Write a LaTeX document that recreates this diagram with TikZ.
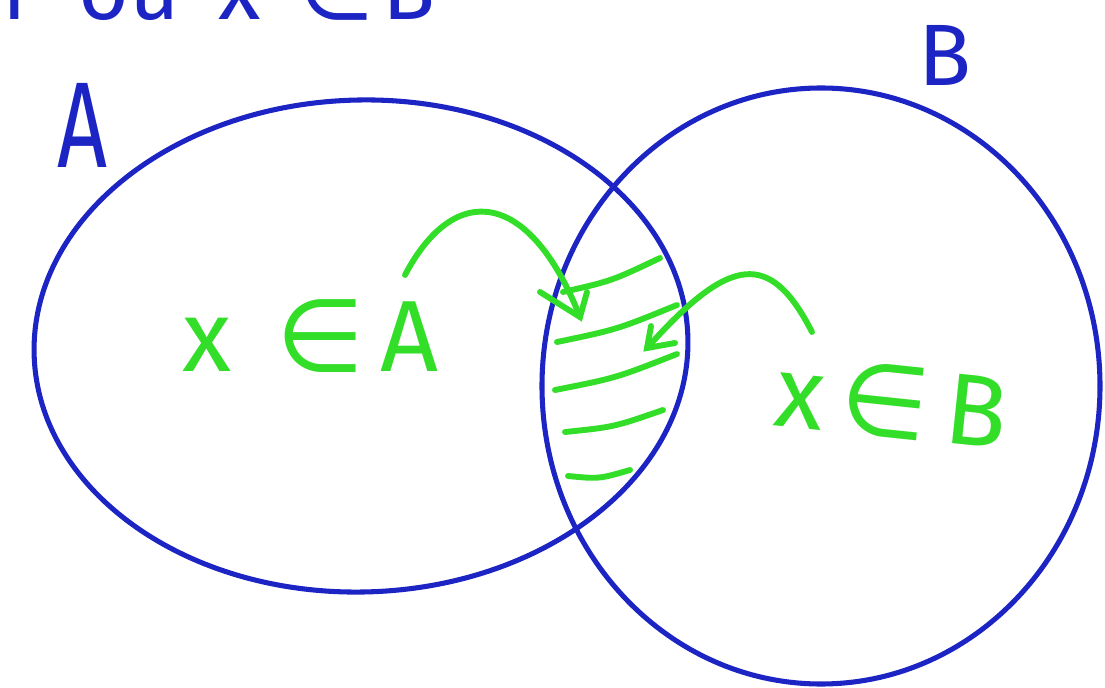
\documentclass[tikz,border=0pt]{standalone}
\usepackage{fontspec}
\setmainfont{Fira Sans}
\newfontfamily\symfont{DejaVu Sans}
\usetikzlibrary{shapes.geometric,calc}
\definecolor{penblue}{RGB}{28,36,196}
\definecolor{pengreen}{RGB}{50,222,40}
\newcommand{\elemof}{{\symfont ∈}}
\tikzset{
  setline/.style={draw=penblue,line width=3.6pt},
  hatch/.style={draw=pengreen,line width=4.2pt,line cap=round},
  bluelabel/.style={text=penblue,font=\fontsize{62}{62}\selectfont,inner sep=0pt},
  headpart/.style={bluelabel,anchor=base west},
  greenlabel/.style={text=pengreen,font=\fontsize{72}{72}\selectfont,inner sep=0pt},
}
\begin{document}
\begin{tikzpicture}[x=0.025cm,y=-0.025cm]
\useasboundingbox[fill=white] (0,0) rectangle (1105,688);
% cropped heading
\node[headpart] (head1) at (2,20) {r};
\node[headpart] (head2) at (78,20) {ou};
\node[headpart] (head3) at (218,20) {x};
\node[headpart] (head4) at (298,20) {\elemof};
\node[headpart] (head5) at (382,20) {B};
% sets
\node[setline,ellipse,minimum width=327*2*0.025cm,minimum height=246*2*0.025cm,rotate=1.5] (setA) at (361,346) {};
\node[setline,ellipse,minimum width=279*2*0.025cm,minimum height=298*2*0.025cm] (setB) at (821,386) {};
\node[bluelabel,yscale=1.4] (labA) at (82,125) {A};
\node[bluelabel] (labB) at (945,55) {B};
% element labels
\node[greenlabel,anchor=base west] (xa) at (182,372) {x\hspace{0.45em}\elemof\hspace{0.15em}A};
\node[greenlabel,anchor=base west,rotate=-6] (xb) at (772,425) {x\,\elemof\,B};
% hatching
\foreach \i/\xa/\ya/\xb/\yb in {1/563/292/660/258,2/557/342/677/305,3/555/390/677/354,4/565/432/663/410,5/568/476/630/470}{
  \coordinate (h\i s) at (\xa,\ya);
  \coordinate (h\i e) at (\xb,\yb);
  \draw[hatch] (h\i s) .. controls ($(h\i s)!0.5!(h\i e)+(0,6)$) .. (h\i e);
}
% arrows
\coordinate (a1s) at (405,275);
\coordinate (a1t) at (580,317);
\draw[hatch] (a1s) .. controls (455,180) and (530,190) .. (a1t);
\draw[hatch] (540,292) -- (a1t) -- (587,292);
\coordinate (a2s) at (812,332);
\coordinate (a2t) at (647,348);
\draw[hatch] (a2s) .. controls (770,250) and (730,255) .. (a2t);
\draw[hatch] (651,326) -- (a2t) -- (675,343);
\end{tikzpicture}
\end{document}
